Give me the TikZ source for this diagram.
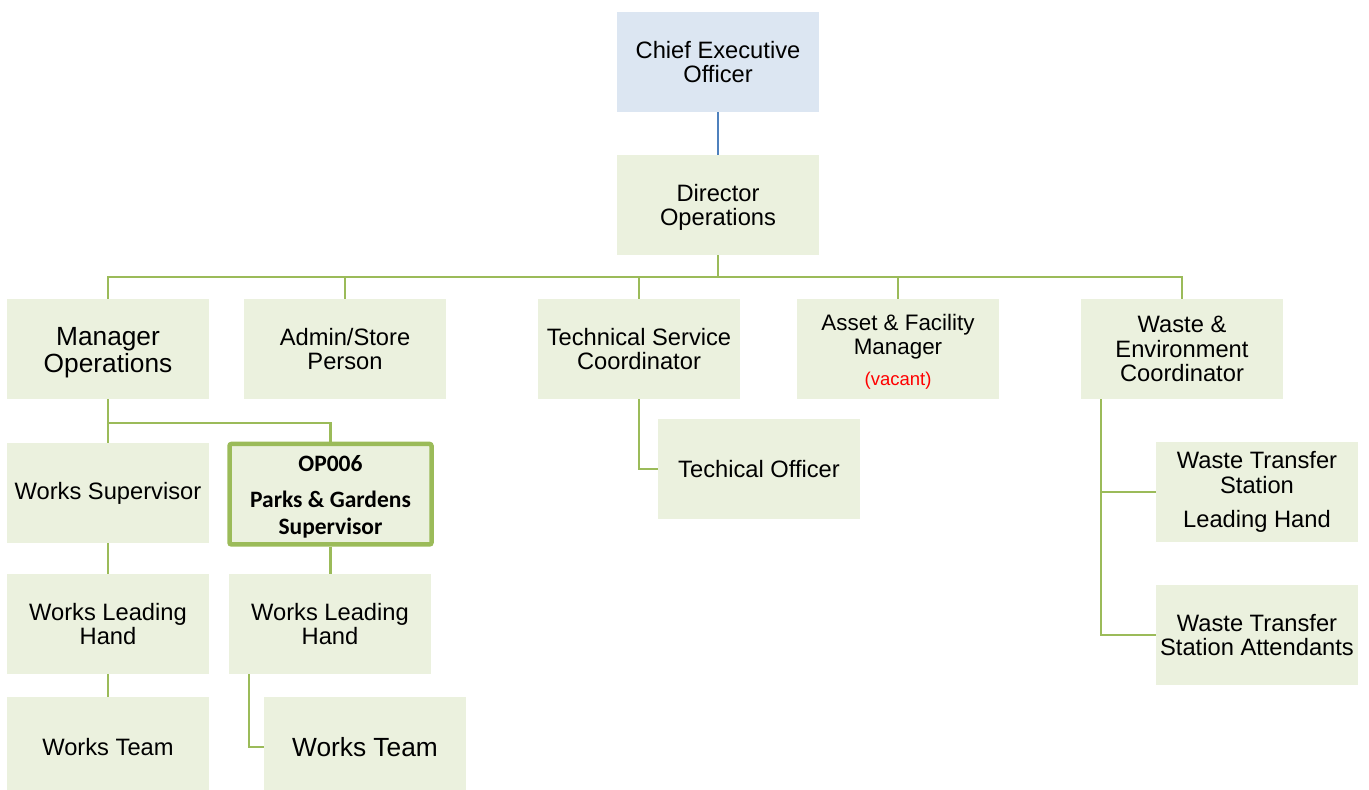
\documentclass[tikz,border=0pt]{standalone}
\usepackage{fontspec}
\setmainfont{Liberation Sans}
\newfontfamily\carl{Carlito}
\definecolor{boxfill}{HTML}{EBF1DE}
\definecolor{ceofill}{HTML}{DCE6F2}
\definecolor{lgreen}{HTML}{9BBB59}
\definecolor{lblue}{HTML}{4F81BD}
\definecolor{vacred}{HTML}{FF0000}
\begin{document}
\begin{tikzpicture}[x=1pt,y=-1pt,
  box/.style={rectangle, fill=boxfill, minimum width=202pt, minimum height=100pt,
    inner sep=0pt, align=center, font=\fontsize{23.7}{24.5}\selectfont},
  bigbox/.style={box, font=\fontsize{26.3}{26.7}\selectfont},
  conn/.style={draw=lgreen, line width=2.5pt},
  topconn/.style={draw=lblue, line width=2pt},
]
\useasboundingbox (0,0) rectangle (1369,790);
\clip (0,0) rectangle (1369,790);

\node[box, fill=ceofill] (ceo) at (718,62) {Chief Executive\\Officer};
\node[box] (dir) at (718,205) {\rule{0pt}{22pt}Director\\Operations};

\node[bigbox] (mo) at (108,349) {\rule{0pt}{25pt}Manager\\Operations};
\node[box] (as) at (345,349) {Admin/Store\\Person};
\node[box] (tsc) at (639,349) {Technical Service\\Coordinator};
\node[box, font=\fontsize{22.4}{24.5}\selectfont] (afm) at (898,349)
  {\rule{0pt}{21.5pt}Asset \& Facility\\Manager\\[6.5pt]{\fontsize{18.5}{20}\selectfont\color{vacred}(vacant)}};
\node[box] (wec) at (1182,349) {Waste \&\\Environment\\Coordinator};

\node[box] (ws) at (108,493) {Works Supervisor};
\node[box, draw=lgreen, line width=4.5pt, rounded corners=2pt, minimum height=100.5pt,
  font=\carl\bfseries\fontsize{23.5}{27}\selectfont] (pg) at (330.5,494.2)
  {\rule{0pt}{21pt}OP006\\[9pt]Parks \& Gardens\\Supervisor};

\node[box] (wlh1) at (108,624) {Works Leading\\Hand};
\node[box] (wlh2) at (330,624) {Works Leading\\Hand};
\node[box] (wt1) at (108,747) {Works Team};
\node[bigbox] (wt2) at (365,747) {Works Team};

\node[box] (to) at (759,469) {Techical Officer};
\node[box, font=\fontsize{23.7}{24.5}\selectfont] (wtl) at (1257,492) {Waste Transfer\\Station\\[9.5pt]Leading Hand};
\node[box] (wta) at (1257,635) {Waste Transfer\\Station Attendants};

% connectors
\draw[topconn] (ceo.south) -- (dir.north);
\foreach \c in {mo,as,tsc,afm,wec}
  \draw[conn] (dir.south) -- ++(0,22) -| (\c.north);
\draw[conn] (mo.south) -- ++(0,24) -| (ws.north);
\draw[conn] (mo.south) -- ++(0,24) -| (pg.north);
\draw[conn] (ws.south) -- (wlh1.north);
\draw[conn] (wlh1.south) -- (wt1.north);
\draw[conn] (pg.south) -- (pg.south |- wlh2.north);
\draw[conn] ([xshift=20pt]wlh2.south west) |- (wt2.west);
\draw[conn] (tsc.south) |- (to.west);
\draw[conn] ([xshift=20pt]wec.south west) |- (wtl.west);
\draw[conn] ([xshift=20pt]wec.south west) |- (wta.west);
\end{tikzpicture}
\end{document}
